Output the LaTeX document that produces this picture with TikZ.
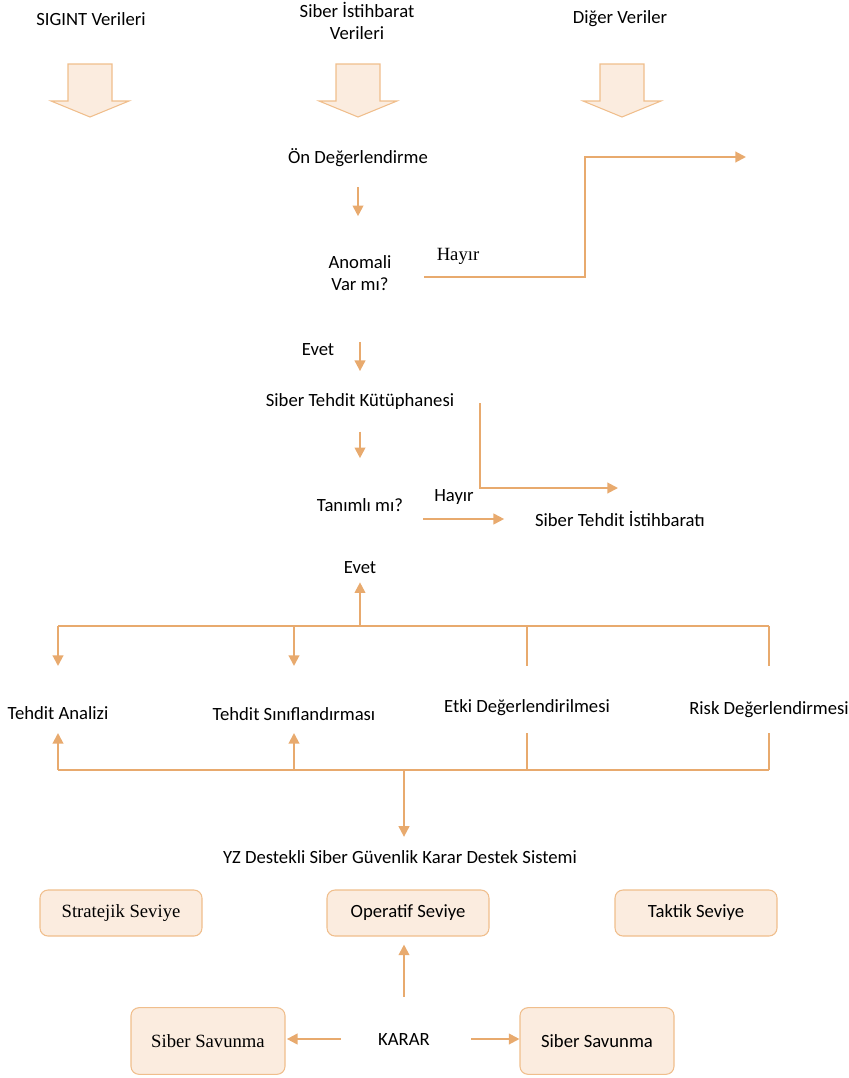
\documentclass[tikz,border=0pt]{standalone}
\usepackage{fontspec}
\setmainfont{Carlito}
\newfontfamily\timesf{Liberation Serif}
\usetikzlibrary{arrows.meta,calc}

\definecolor{lineor}{RGB}{232,170,110}
\definecolor{boxfill}{RGB}{251,236,223}
\definecolor{boxline}{RGB}{240,190,140}

\tikzset{
    txt/.style={font=\fontsize{14}{17}\selectfont,align=center,inner sep=1pt},
    tms/.style={font=\timesf\fontsize{14}{17}\selectfont},
    ln/.style={draw=lineor,line width=1.5pt},
    arr/.style={ln,-{Triangle[width=8pt,length=8pt]}},
    blk/.style={draw=boxline,fill=boxfill,line width=0.8pt},
    lvlbox/.style={txt,draw=boxline,fill=boxfill,line width=0.8pt,rounded corners=6pt,
        minimum width=121.5pt,minimum height=34.5pt},
    defbox/.style={lvlbox,minimum width=115.5pt,minimum height=50pt}
}

\begin{document}
\begin{tikzpicture}[x=0.75pt,y=-0.75pt]
    \useasboundingbox (0,0) rectangle (849,1078);
    % data sources
    \node[txt] (sig) at (91,19) {SIGINT Verileri};
    \node[txt] (sib) at (357,21) {Siber İstihbarat\\Verileri};
    \node[txt] (dig) at (620,19) {Diğer Veriler};
    \foreach \x in {90,358,622}
        \draw[blk] (\x-22,64) -- (\x+22,64) -- (\x+22,101) -- (\x+39,101)
            -- (\x,117) -- (\x-39,101) -- (\x-22,101) -- cycle;

    % anomaly check
    \node[txt] (on) at (358,158) {Ön Değerlendirme};
    \node[txt] (anom) at (360,273) {Anomali\\Var mı?};
    \node[txt,tms] (hay1) at (458,256) {Hayır};
    \coordinate (hs) at (424,277);
    \coordinate (he) at (746,157);
    \draw[arr,shorten <=14pt,shorten >=28pt] (on.south) -- (on.south |- anom.north);
    \draw[arr] (hs) -| ($(hs)!.5!(he)$) |- (he);

    % library
    \node[txt] (ev1) at (318,350) {Evet};
    \node[txt] (kut) at (360,402) {Siber Tehdit Kütüphanesi};
    \node[txt] (tan) at (360,505) {Tanımlı mı?};
    \node[txt] (hay2) at (454,497) {Hayır};
    \node[txt] (sti) at (620,519) {Siber Tehdit İstihbaratı};
    \draw[arr,shorten <=37pt,shorten >=16pt] (anom.south -| kut) -- (kut.north);
    \draw[arr,shorten <=15pt,shorten >=29pt] (kut.south) -- (kut.south |- tan.north);
    \coordinate (k1) at (480,403);
    \coordinate (k2) at (618,488);
    \draw[arr] (k1) |- (k2);
    \draw[arr,shorten <=14pt,shorten >=22pt] (tan.east |- sti) -- (sti.west);

    % analysis steps
    \node[txt] (ev2) at (360,568) {Evet};
    \node[txt] (ta) at (58,713) {Tehdit Analizi};
    \node[txt] (ts) at (294,714) {Tehdit Sınıflandırması};
    \node[txt] (ed) at (527,708) {Etki Değerlendirilmesi};
    \node[txt] (rd) at (769,710) {Risk Değerlendirmesi};
    \coordinate (hubT) at (360,626);
    \coordinate (topT) at (0,666);
    \coordinate (hubB) at (404,770);
    \coordinate (botT) at (0,733);
    \draw[arr,shorten >=5pt] (hubT) -- (ev2.south);
    \draw[ln] (ta |- hubT) -- (rd |- hubT);
    \draw[ln] (ta |- hubB) -- (rd |- hubB);
    \foreach \n/\st in {ta/arr,ts/arr,ed/ln,rd/ln} {
        \draw[\st] (\n |- hubT) -- (\n |- topT);
        \draw[\st] (\n |- hubB) -- (\n |- botT);
    }

    % decision support
    \node[txt] (yz) at (400,857) {YZ Destekli Siber Güvenlik Karar Destek Sistemi};
    \draw[arr,shorten >=9pt] (hubB) -- (hubB |- yz.north);
    \node[lvlbox,tms] (str) at (121,913) {Stratejik Seviye};
    \node[lvlbox] (op) at (408,913) {Operatif Seviye};
    \node[lvlbox] (tak) at (696,913) {Taktik Seviye};
    \node[txt] (kar) at (404,1039) {KARAR};
    \node[defbox,tms] (sv1) at (208,1041) {Siber Savunma};
    \node[defbox] (sv2) at (597,1041) {Siber Savunma};
    \draw[arr,shorten <=26pt,shorten >=6pt] (kar.north) -- (kar.north |- op.south);
    \draw[arr,shorten <=27pt,shorten >=1pt] (kar.west) -- (sv1.east |- kar.west);
    \draw[arr,shorten <=30pt] (kar.east) -- (sv2.west |- kar.east);
\end{tikzpicture}
\end{document}
